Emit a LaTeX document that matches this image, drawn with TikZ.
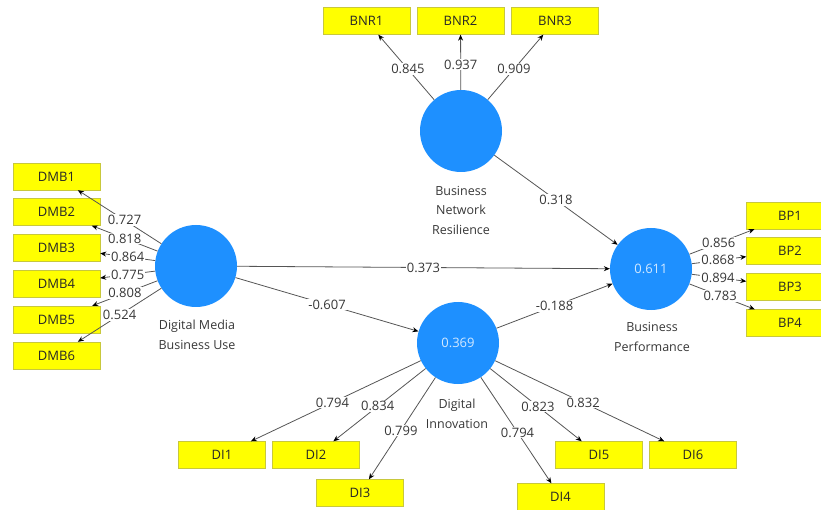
\documentclass[tikz,border=0pt]{standalone}
\usepackage{fontspec}
\setmainfont{Open Sans}
\usetikzlibrary{arrows.meta}
\definecolor{lv}{RGB}{30,144,255}
\definecolor{ind}{RGB}{255,255,0}
\definecolor{indb}{RGB}{200,200,60}
\definecolor{txt}{RGB}{55,55,55}
\definecolor{ln}{RGB}{85,85,85}
\begin{document}
\begin{tikzpicture}[x=1pt,y=-1pt,
  font=\fontsize{13}{15}\selectfont,
  latent/.style={circle,fill=lv,minimum size=82pt,inner sep=0pt,text=white!80!lv},
  item/.style={rectangle,fill=ind,draw=indb,line width=0.4pt,minimum width=87pt,minimum height=27pt,inner sep=0pt,text=txt!70!black},
  lname/.style={align=center,text=txt,inner sep=0pt,font=\fontsize{12.5}{19.5}\selectfont},
  arr/.style={draw=ln,line width=0.8pt,-{Stealth[length=6pt,width=5pt,color=black]}},
  coef/.style={fill=white,inner sep=1pt,text=txt,pos=0.5}
]
\useasboundingbox (0,0) rectangle (821,510);
\clip (0,0) rectangle (821,510);

% latent variables
\node[latent] (dmbu) at (196,266) {};
\node[latent] (bnr) at (461,131) {};
\node[latent] (bp) at (651,269) {0.611};
\node[latent] (di) at (458,343) {0.369};

\node[lname] (dmbulab) at (197,335) {Digital Media\\Business Use};
\node[lname] (bnrlab) at (461,210) {Business\\Network\\Resilience};
\node[lname] (bplab) at (652,337) {Business\\Performance};
\node[lname] (dilab) at (457,414) {Digital\\Innovation};

% indicators
\node[item] (dmb1) at (56.5,176.5) {DMB1};
\node[item] (dmb2) at (56.5,212) {DMB2};
\node[item] (dmb3) at (56.5,247.5) {DMB3};
\node[item] (dmb4) at (56.5,283.5) {DMB4};
\node[item] (dmb5) at (56.5,319.5) {DMB5};
\node[item] (dmb6) at (56.5,355.5) {DMB6};

\node[item] (bnr1) at (366.5,21) {BNR1};
\node[item] (bnr2) at (460.5,21) {BNR2};
\node[item] (bnr3) at (555,21) {BNR3};

\node[item] (bp1) at (790,215.5) {BP1};
\node[item] (bp2) at (790,251) {BP2};
\node[item] (bp3) at (790,287) {BP3};
\node[item] (bp4) at (790,323) {BP4};

\node[item] (di1) at (222,455) {DI1};
\node[item] (di2) at (316,455) {DI2};
\node[item] (di3) at (360,493) {DI3};
\node[item] (di4) at (560.5,497) {DI4};
\node[item] (di5) at (599,455) {DI5};
\node[item] (di6) at (693,455) {DI6};

% structural paths
\draw[arr] (dmbu) -- node[coef] {0.373} (bp);
\draw[arr] (dmbu) -- node[coef] {-0.607} (di);
\draw[arr] (di) -- node[coef] {-0.188} (bp);
\draw[arr] (bnr) -- node[coef] {0.318} (bp);

% outer loadings
\draw[arr] (dmbu) -- node[coef,pos=0.44] {0.727} (dmb1);
\draw[arr] (dmbu) -- node[coef] {0.818} (dmb2);
\draw[arr] (dmbu) -- node[coef] {0.864} (dmb3);
\draw[arr] (dmbu) -- node[coef] {0.775} (dmb4);
\draw[arr] (dmbu) -- node[coef] {0.808} (dmb5);
\draw[arr] (dmbu) -- node[coef] {0.524} (dmb6);

\draw[arr] (bnr) -- node[coef,pos=0.47] {0.845} (bnr1);
\draw[arr] (bnr) -- node[coef,pos=0.46] {0.937} (bnr2);
\draw[arr] (bnr) -- node[coef,pos=0.47] {0.909} (bnr3);

\draw[arr] (bp) -- node[coef,pos=0.45] {0.856} (bp1);
\draw[arr] (bp) -- node[coef,pos=0.48] {0.868} (bp2);
\draw[arr] (bp) -- node[coef,pos=0.48] {0.894} (bp3);
\draw[arr] (bp) -- node[coef,pos=0.47] {0.783} (bp4);

\draw[arr] (di) -- node[coef,pos=0.52] {0.794} (di1);
\draw[arr] (di) -- node[coef,pos=0.52] {0.834} (di2);
\draw[arr] (di) -- node[coef,pos=0.52] {0.799} (di3);
\draw[arr] (di) -- node[coef,pos=0.52] {0.794} (di4);
\draw[arr] (di) -- node[coef,pos=0.52] {0.823} (di5);
\draw[arr] (di) -- node[coef,pos=0.52] {0.832} (di6);
\end{tikzpicture}
\end{document}
